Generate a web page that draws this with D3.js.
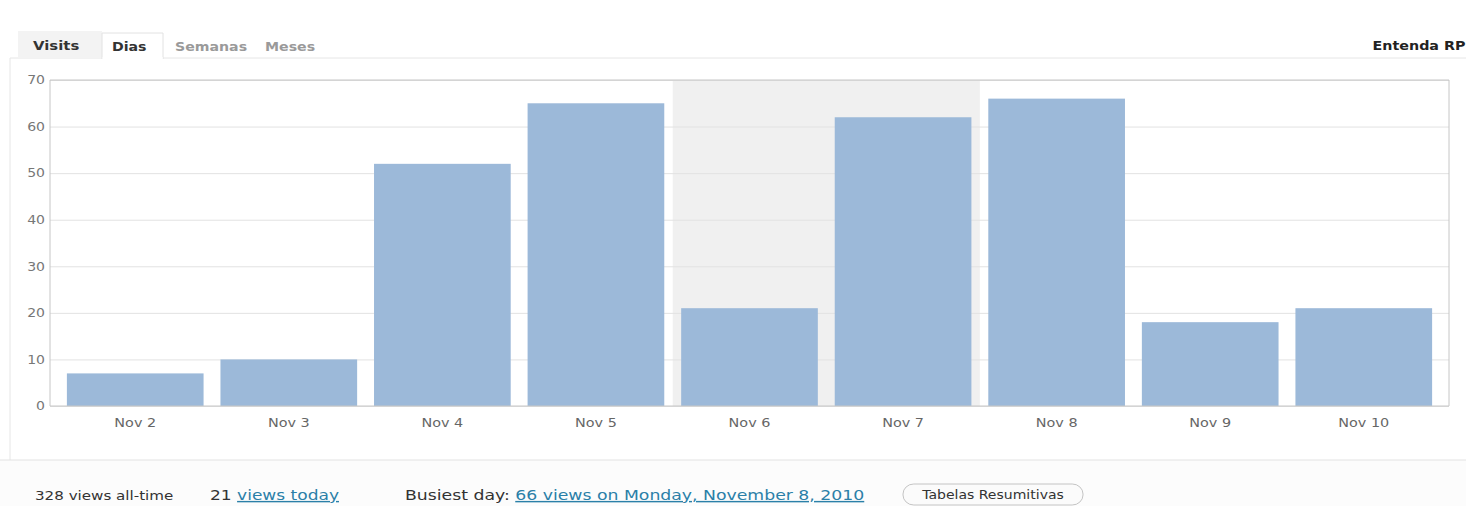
<!DOCTYPE html>
<html>
<head>
<meta charset="utf-8">
<script src="https://cdn.jsdelivr.net/npm/d3@7/dist/d3.min.js"></script>
<style>
  html, body { margin: 0; padding: 0; background: #fff; }
  svg { display: block; font-family: "DejaVu Sans", Verdana, sans-serif; }
  svg line, svg rect, svg path { vector-effect: non-scaling-stroke; }
</style>
</head>
<body>
<svg id="chart" width="1466" height="506"></svg>
<script>
// data
const days = ["Nov 2", "Nov 3", "Nov 4", "Nov 5", "Nov 6", "Nov 7", "Nov 8", "Nov 9", "Nov 10"];
const visits = [7, 10, 52, 65, 21, 62, 66, 18, 21];
const weekend = ["Nov 6", "Nov 7"];
const yTicks = [0, 10, 20, 30, 40, 50, 60, 70];
const tabs = ["Dias", "Semanas", "Meses"];
const allTime = 328;
const today = 21;
const busiest = "66 views on Monday, November 8, 2010";

// the screenshot is stretched sideways, so draw in a narrower space and stretch it
const sx = 1.2;
const W = 1466 / sx, H = 506;
const svg = d3.select('#chart')
    .attr('viewBox', `0 0 ${W} ${H}`)
    .attr('preserveAspectRatio', 'none');

const margin = { top: 80, left: 50 / sx, right: W - 1449 / sx, bottom: H - 406 };
const width = W - margin.left - margin.right;
const height = H - margin.top - margin.bottom;

// page pieces: bottom strip, panel, tabs
svg.append('rect').attr('x', 0).attr('y', 460).attr('width', W).attr('height', H - 460).attr('fill', '#fcfcfc');
svg.append('path')
    .attr('d', `M${10 / sx},460 V58 H${W}`)
    .attr('fill', 'none').attr('stroke', '#e6e6e6');
svg.append('line').attr('x1', 0).attr('x2', W).attr('y1', 460).attr('y2', 460).attr('stroke', '#e2e2e2');

svg.append('rect').attr('x', 18 / sx).attr('y', 31).attr('width', 84 / sx).attr('height', 27).attr('fill', '#f3f3f3');
svg.append('text').attr('x', 33 / sx).attr('y', 50)
    .attr('font-size', 12.4).attr('font-weight', 'bold').attr('fill', '#333').text('Visits');

svg.append('path')
    .attr('d', `M${102 / sx},59 V33 H${163 / sx} V59`)
    .attr('fill', '#fff').attr('stroke', '#e2e2e2');
svg.append('rect').attr('x', 102 / sx + 0.5).attr('y', 57).attr('width', 60 / sx).attr('height', 3).attr('fill', '#fff');

const tabX = [112, 175, 265];
svg.selectAll('text.tab').data(tabs).join('text')
    .attr('class', 'tab')
    .attr('x', (d, i) => tabX[i] / sx).attr('y', 51)
    .attr('font-size', 11.8).attr('font-weight', 'bold')
    .attr('fill', (d, i) => i === 0 ? '#333' : '#9a9a9a')
    .text(d => d);

svg.append('text').attr('x', W - 0.5).attr('y', 50).attr('text-anchor', 'end')
    .attr('font-size', 11.9).attr('font-weight', 'bold').attr('fill', '#222').text('Entenda RP');

// chart
const g = svg.append('g').attr('transform', `translate(${margin.left},${margin.top})`);

const x = d3.scaleBand().domain(days).range([0, width]).paddingInner(0.11).paddingOuter(0.11);
const y = d3.scaleLinear().domain([0, 70]).range([height, 0]);

const gap = x.step() * x.paddingInner();
g.append('rect')
    .attr('x', x(weekend[0]) - gap / 2)
    .attr('y', 0)
    .attr('width', x(weekend[weekend.length - 1]) + x.bandwidth() + gap / 2 - (x(weekend[0]) - gap / 2))
    .attr('height', height)
    .attr('fill', '#f0f0f0');

const yAxis = d3.axisLeft(y).tickValues(yTicks).tickSize(-width).tickPadding(5 / sx);
g.append('g')
    .attr('class', 'axis axis--y')
    .call(yAxis)
    .call(a => a.select('.domain').remove())
    .call(a => a.selectAll('.tick line').attr('stroke', '#e2e2e2'))
    .call(a => a.selectAll('.tick text')
        .attr('font-family', '"DejaVu Sans", Verdana, sans-serif')
        .attr('font-size', 11.7).attr('fill', '#777'));

g.selectAll('rect.bar').data(visits).join('rect')
    .attr('class', 'bar')
    .attr('x', (d, i) => x(days[i]))
    .attr('y', d => y(d))
    .attr('width', x.bandwidth())
    .attr('height', d => height - y(d))
    .attr('fill', '#9cb9d9');

g.append('g')
    .attr('transform', `translate(0,${height})`)
    .call(d3.axisBottom(x).tickSize(0).tickPadding(12))
    .call(a => a.select('.domain').remove())
    .call(a => a.selectAll('.tick text')
        .attr('font-family', '"DejaVu Sans", Verdana, sans-serif')
        .attr('font-size', 12).attr('fill', '#666'));

g.append('rect')
    .attr('width', width).attr('height', height)
    .attr('fill', 'none').attr('stroke', '#c6c6c6');

// stats line
const stats = svg.append('g').attr('fill', '#333');
stats.append('text').attr('x', 35 / sx).attr('y', 500).attr('font-size', 12.6).text(`${allTime} views all-time`);
const t2 = stats.append('text').attr('x', 210 / sx).attr('y', 500).attr('font-size', 14.2);
t2.append('tspan').text(`${today} `);
t2.append('tspan').attr('fill', '#2b80a8').attr('text-decoration', 'underline').text('views today');
const t3 = stats.append('text').attr('x', 405 / sx).attr('y', 500).attr('font-size', 14.4);
t3.append('tspan').text('Busiest day: ');
t3.append('tspan').attr('fill', '#2b80a8').attr('text-decoration', 'underline').text(busiest);

const btn = svg.append('g').attr('transform', `translate(${903 / sx},484)`);
btn.append('rect')
    .attr('width', 180 / sx).attr('height', 21).attr('rx', 9).attr('ry', 10)
    .attr('fill', '#fbfbfb').attr('stroke', '#c4c4c4');
btn.append('text')
    .attr('x', 90 / sx).attr('y', 15).attr('text-anchor', 'middle')
    .attr('font-size', 11.7).attr('fill', '#333').text('Tabelas Resumitivas');
</script>
</body>
</html>
